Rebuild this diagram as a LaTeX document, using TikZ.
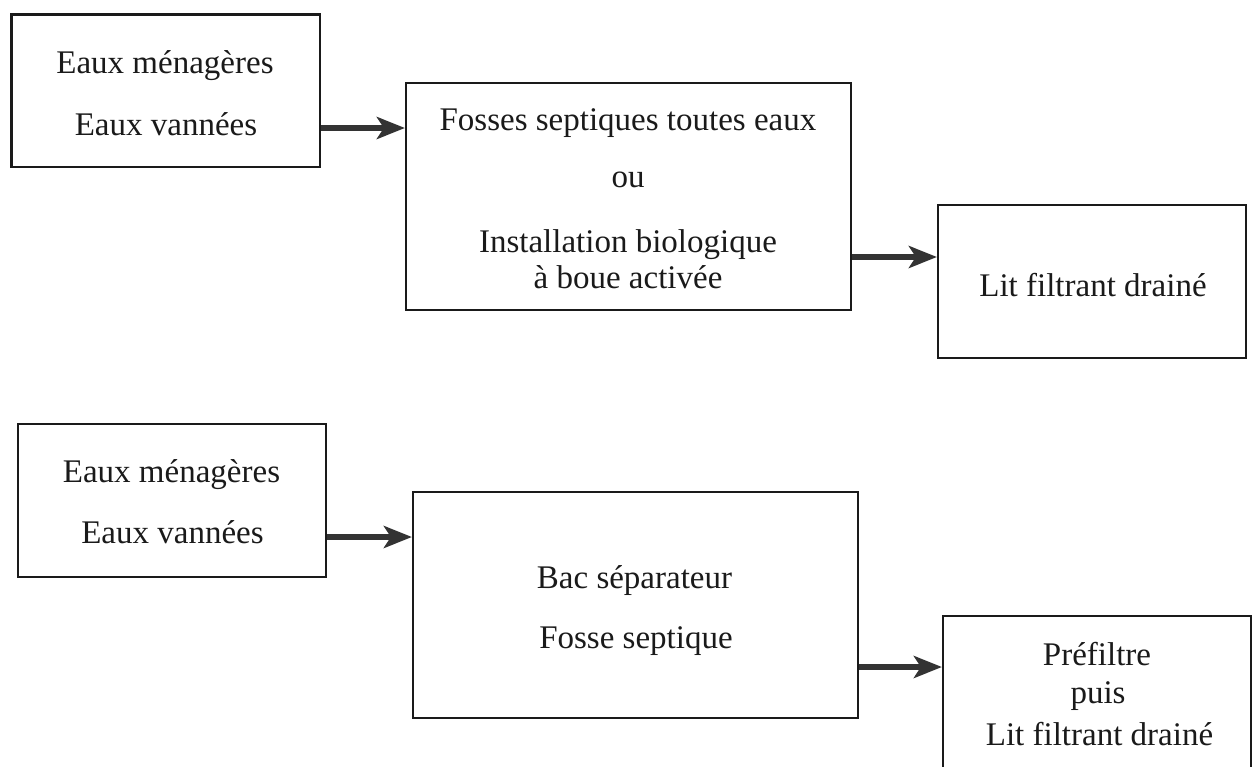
\documentclass[tikz,border=0pt]{standalone}
\usepackage{fontspec}
\setmainfont{Liberation Serif}
\usetikzlibrary{arrows.meta}
\definecolor{ink}{HTML}{1A1A1A}
\definecolor{arrowgray}{HTML}{333333}
\begin{document}
\begin{tikzpicture}[x=1pt,y=-1pt,
  box/.style={draw=ink, line width=2.2pt, inner sep=0pt, fill=none},
  txt/.style={anchor=base, inner sep=0pt, text=ink, font=\fontsize{33}{38}\selectfont},
  arr/.style={draw=arrowgray, line width=5.5pt, -{Stealth[length=28pt,width=22pt,inset=7pt]}}]
\clip (0,0) rectangle (1253,766);
\fill[white] (0,0) rectangle (1253,766);
% top row
\node[box, minimum width=308.5pt, minimum height=152.5pt] (A1) at (165.75,90.75) {};
\node[box, minimum width=445pt, minimum height=227pt] (B1) at (628.5,196.5) {};
\node[box, minimum width=308pt, minimum height=153pt] (C1) at (1092,281.5) {};
\node[txt] (a1l1) at (165,73) {Eaux ménagères};
\node[txt] (a1l2) at (166,135) {Eaux vannées};
\node[txt] (b1l1) at (628,130) {Fosses septiques toutes eaux};
\node[txt] (b1l2) at (628,187) {ou};
\node[txt] (b1l3) at (628,252) {Installation biologique};
\node[txt] (b1l4) at (628,288) {à boue activée};
\node[txt] (c1l1) at (1093,296) {Lit filtrant drainé};
% bottom row
\node[box, minimum width=308pt, minimum height=153pt] (A2) at (172,500.5) {};
\node[box, minimum width=445pt, minimum height=226pt] (B2) at (635.5,605) {};
\node[box, minimum width=308pt, minimum height=164pt] (C2) at (1097,698) {};
\node[txt] (a2l1) at (171.5,482) {Eaux ménagères};
\node[txt] (a2l2) at (172.5,543) {Eaux vannées};
\node[txt] (b2l1) at (634.5,588) {Bac séparateur};
\node[txt] (b2l2) at (636,648) {Fosse septique};
\node[txt] (c2l1) at (1097,665) {Préfiltre};
\node[txt] (c2l2) at (1098,703) {puis};
\node[txt] (c2l3) at (1099.5,745) {Lit filtrant drainé};
% arrow levels
\coordinate (y1) at (0,128);
\coordinate (y2) at (0,257);
\coordinate (y3) at (0,537);
\coordinate (y4) at (0,667);
\draw[arr] (A1.east |- y1) -- (B1.west |- y1);
\draw[arr] (B1.east |- y2) -- (C1.west |- y2);
\draw[arr] (A2.east |- y3) -- (B2.west |- y3);
\draw[arr] (B2.east |- y4) -- (C2.west |- y4);
\end{tikzpicture}
\end{document}
